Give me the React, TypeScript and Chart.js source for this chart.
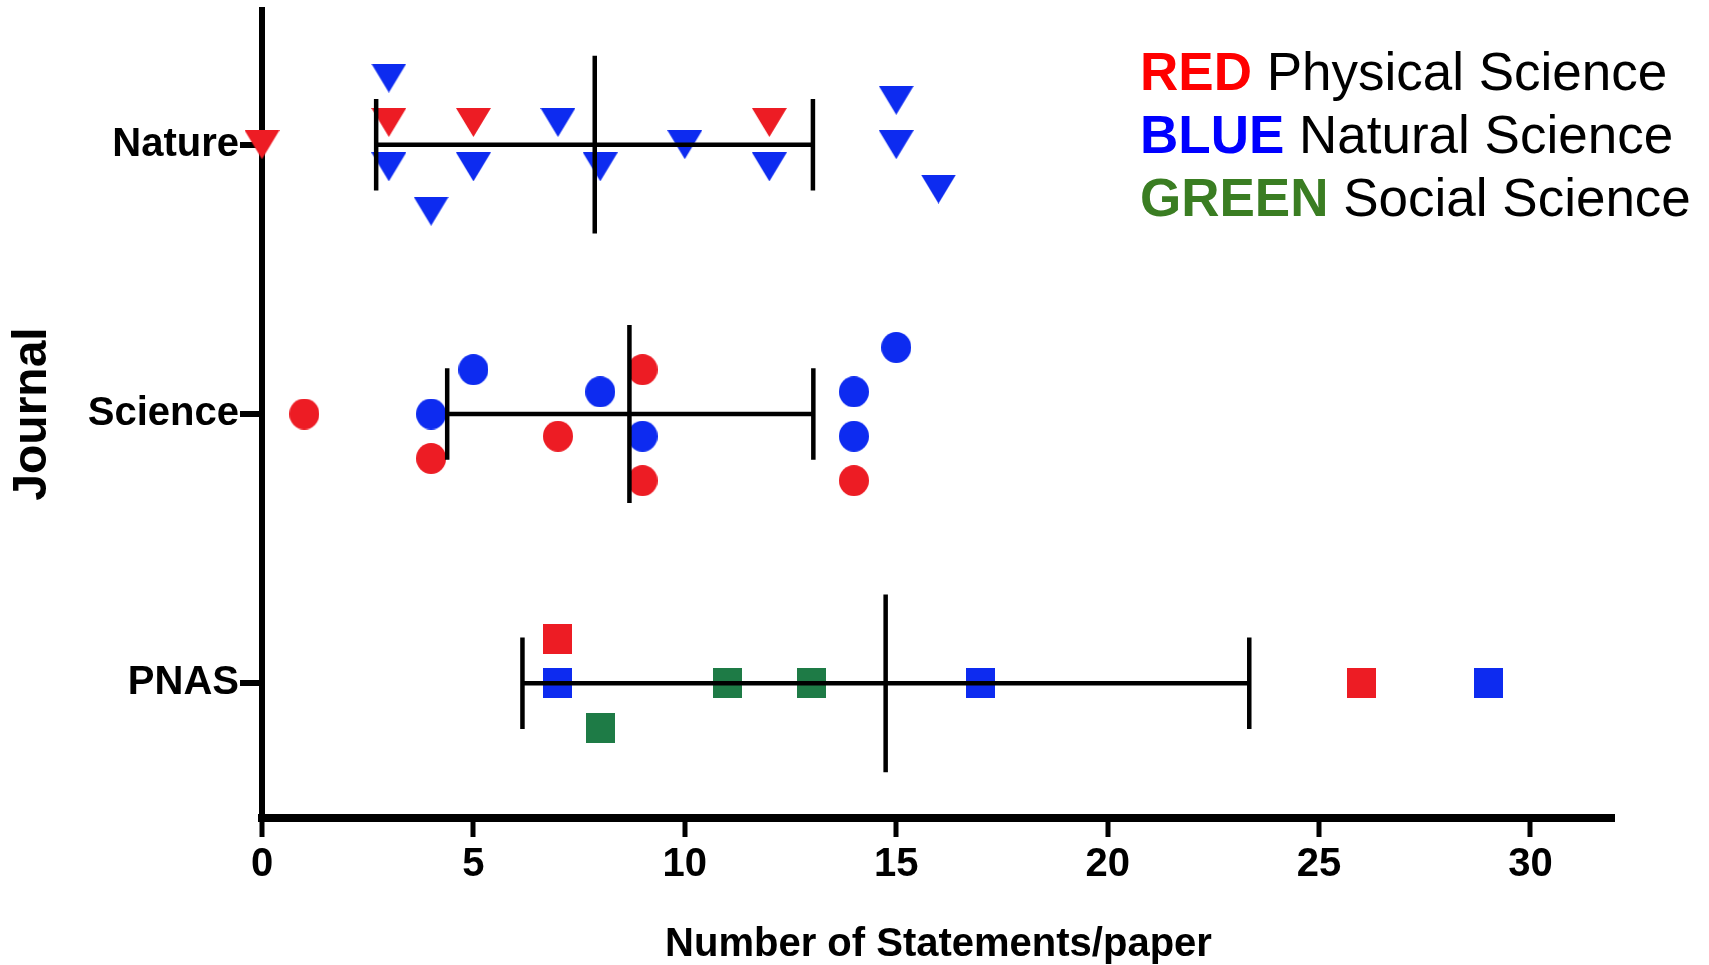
import React, { useEffect, useRef } from 'react';
import { Chart, registerables } from 'chart.js';

Chart.register(...registerables);

// ---------- data ----------
const journals = ['Nature', 'Science', 'PNAS'];
const journalPos = [1, 2, 3];
const xTicks = [0, 5, 10, 15, 20, 25, 30];

// Nature (triangles)
const natureRedX = [0, 3, 5, 12];
const natureRedSlot = [0, -1, -1, -1];
const natureBlueX = [3, 7, 15, 10, 15, 3, 5, 8, 12, 16, 4];
const natureBlueSlot = [-3, -1, -2, 0, 0, 1, 1, 1, 1, 2, 3];

// Science (circles)
const scienceRedX = [1, 4, 7, 9, 9, 14];
const scienceRedSlot = [0, 2, 1, -2, 3, 3];
const scienceBlueX = [4, 5, 8, 9, 14, 14, 15];
const scienceBlueSlot = [0, -2, -1, 1, -1, 1, -3];

// PNAS (squares)
const pnasRedX = [7, 26];
const pnasRedSlot = [-2, 0];
const pnasBlueX = [7, 17, 29];
const pnasBlueSlot = [0, 0, 0];
const pnasGreenX = [11, 13, 8];
const pnasGreenSlot = [0, 0, 2];

// mean and spread bars
const means = [7.87, 8.69, 14.75];
const lowerBars = [2.7, 4.38, 6.16];
const upperBars = [13.03, 13.04, 23.35];

const legendKeys = ['RED', 'BLUE', 'GREEN'];
const legendLabels = ['Physical Science', 'Natural Science', 'Social Science'];

// ---------- styles ----------
const FONT = "'Liberation Sans', Arial, Helvetica, sans-serif";
const RED = '#ED1C24';
const BLUE = '#0D2BF0';
const GREEN = '#1E7B46';
const LEGEND_COLORS = ['#FF0000', '#0000FF', '#3A7D22'];
const JITTER = 0.0824;
const CAP_HALF = 0.17;
const MEAN_HALF = 0.33;

function makeMarker(shape: string, color: string): HTMLCanvasElement {
  const c = document.createElement('canvas');
  let w = 30, h = 31;
  if (shape === 'triangle') { w = 35; h = 29; }
  if (shape === 'square') { w = 29; h = 30; }
  c.width = w;
  c.height = h;
  const ctx = c.getContext('2d')!;
  ctx.fillStyle = color;
  ctx.beginPath();
  if (shape === 'triangle') {
    ctx.moveTo(0, 0);
    ctx.lineTo(w, 0);
    ctx.lineTo(w / 2, h);
    ctx.closePath();
  } else if (shape === 'circle') {
    ctx.ellipse(w / 2, h / 2, w / 2, h / 2, 0, 0, Math.PI * 2);
  } else {
    ctx.rect(0, 0, w, h);
  }
  ctx.fill();
  return c;
}

function pts(xs: number[], slots: number[], base: number) {
  return xs.map((x, i) => ({ x, y: base + slots[i] * JITTER }));
}

const legendPlugin = {
  id: 'colorLegend',
  afterDraw(chart: any) {
    const ctx = chart.ctx;
    ctx.save();
    ctx.textBaseline = 'alphabetic';
    ctx.textAlign = 'left';
    legendKeys.forEach((k, i) => {
      const y = 90 + i * 63;
      const x = 1140;
      ctx.font = `bold 53px ${FONT}`;
      ctx.fillStyle = LEGEND_COLORS[i];
      ctx.fillText(k, x, y);
      const w = ctx.measureText(k + ' ').width;
      ctx.font = `53px ${FONT}`;
      ctx.fillStyle = '#000';
      ctx.fillText(legendLabels[i], x + w, y);
    });
    ctx.restore();
  },
};

export default function App() {
  const ref = useRef<HTMLCanvasElement>(null);

  useEffect(() => {
    document.body.style.margin = '0';
    const tri = (c: string) => makeMarker('triangle', c);
    const cir = (c: string) => makeMarker('circle', c);
    const sq = (c: string) => makeMarker('square', c);

    const pointDs = (data: any[], style: HTMLCanvasElement) => ({
      data,
      pointStyle: style,
      pointRadius: 1,
      pointHoverRadius: 1,
      pointBorderWidth: 0,
      showLine: false,
      clip: false as any,
      order: 1,
    });

    const lineDs = (data: any[]) => ({
      data,
      showLine: true,
      borderColor: '#000',
      borderWidth: 4.5,
      pointRadius: 0,
      pointHoverRadius: 0,
      clip: false as any,
      order: 0,
    });

    const bars: any[] = [];
    journalPos.forEach((p, i) => {
      bars.push(lineDs([{ x: lowerBars[i], y: p }, { x: upperBars[i], y: p }]));
      bars.push(lineDs([{ x: lowerBars[i], y: p - CAP_HALF }, { x: lowerBars[i], y: p + CAP_HALF }]));
      bars.push(lineDs([{ x: upperBars[i], y: p - CAP_HALF }, { x: upperBars[i], y: p + CAP_HALF }]));
      bars.push(lineDs([{ x: means[i], y: p - MEAN_HALF }, { x: means[i], y: p + MEAN_HALF }]));
    });

    const datasets: any[] = [
      ...bars,
      pointDs(pts(natureRedX, natureRedSlot, journalPos[0]), tri(RED)),
      pointDs(pts(natureBlueX, natureBlueSlot, journalPos[0]), tri(BLUE)),
      pointDs(pts(scienceRedX, scienceRedSlot, journalPos[1]), cir(RED)),
      pointDs(pts(scienceBlueX, scienceBlueSlot, journalPos[1]), cir(BLUE)),
      pointDs(pts(pnasRedX, pnasRedSlot, journalPos[2]), sq(RED)),
      pointDs(pts(pnasBlueX, pnasBlueSlot, journalPos[2]), sq(BLUE)),
      pointDs(pts(pnasGreenX, pnasGreenSlot, journalPos[2]), sq(GREEN)),
    ];

    const chart = new Chart(ref.current!, {
      type: 'scatter',
      data: { datasets },
      plugins: [legendPlugin],
      options: {
        animation: false,
        responsive: false,
        events: [],
        layout: { padding: { top: 10, right: 94, bottom: 0, left: 0 } },
        plugins: {
          legend: { display: false },
          tooltip: { enabled: false },
        },
        scales: {
          x: {
            type: 'linear',
            min: 0,
            max: 32,
            afterBuildTicks: (s: any) => {
              s.ticks = xTicks.map((v) => ({ value: v }));
            },
            afterFit: (s: any) => {
              s.height = 147;
              s.paddingLeft = 0;
              s.paddingRight = 0;
            },
            grid: {
              display: true,
              drawOnChartArea: false,
              drawTicks: true,
              tickLength: 19,
              tickWidth: 5,
              tickColor: '#000',
              lineWidth: 0,
            },
            border: { display: true, width: 8, color: '#000' },
            ticks: {
              color: '#000',
              padding: 4,
              maxRotation: 0,
              font: { family: FONT, size: 40, weight: 'bold' },
            },
            title: {
              display: true,
              text: 'Number of Statements/paper',
              color: '#000',
              font: { family: FONT, size: 40, weight: 'bold' },
              padding: { top: 0, bottom: -4 },
            },
          },
          y: {
            type: 'linear',
            reverse: true,
            min: 0.5,
            max: 3.5,
            afterBuildTicks: (s: any) => {
              s.ticks = journalPos.map((v) => ({ value: v }));
            },
            afterFit: (s: any) => {
              s.width = 262;
              s.paddingTop = 0;
              s.paddingBottom = 0;
            },
            grid: {
              display: true,
              drawOnChartArea: false,
              drawTicks: true,
              tickLength: 22,
              tickWidth: 6,
              tickColor: '#000',
              lineWidth: 0,
            },
            border: { display: true, width: 6, color: '#000' },
            ticks: {
              color: '#000',
              padding: 1,
              font: { family: FONT, size: 40, weight: 'bold' },
              callback: (_v: any, i: number) => journals[i],
            },
            title: {
              display: true,
              text: 'Journal',
              color: '#000',
              font: { family: FONT, size: 48, weight: 'bold' },
              padding: { top: 4, bottom: 0 },
            },
          },
        },
      } as any,
    });

    return () => chart.destroy();
  }, []);

  return (
    <div style={{ width: 1709, height: 965, position: 'relative', background: '#fff' }}>
      <canvas ref={ref} width={1709} height={965} style={{ display: 'block', width: 1709, height: 965 }} />
    </div>
  );
}
